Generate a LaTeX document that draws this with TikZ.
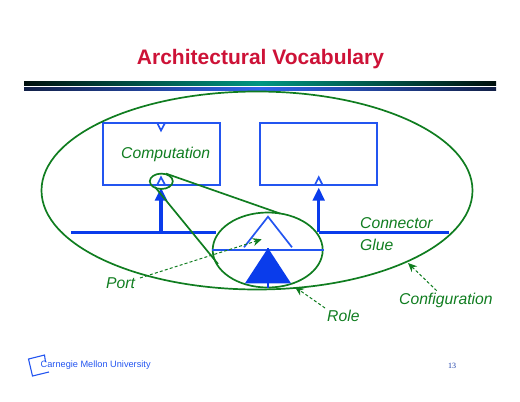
\documentclass[tikz,border=0pt]{standalone}
\usepackage{fontspec}
\setmainfont{Liberation Sans}
\newfontfamily\serifnum{Liberation Serif}
\usetikzlibrary{shapes.geometric,arrows.meta}
\definecolor{cgreen}{RGB}{16,125,32}
\definecolor{cblue}{RGB}{10,60,235}
\definecolor{lblue}{RGB}{35,85,240}
\definecolor{ctitle}{RGB}{205,18,55}
\definecolor{cteal}{RGB}{0,150,130}
\definecolor{cnavy}{RGB}{18,32,70}
\definecolor{cbar}{RGB}{50,100,235}
\tikzset{
  ring/.style={draw=cgreen,line width=1.7pt,ellipse,inner sep=0pt,minimum width=#1},
  zoomline/.style={draw=cgreen,line width=1.7pt},
  boxshape/.style={draw=lblue,line width=1.7pt,rectangle,inner sep=0pt,minimum width=117pt,minimum height=62pt},
  thinblue/.style={draw=lblue,line width=1.7pt,line join=miter},
  thickblue/.style={draw=cblue,line width=3.2pt},
  bluearrow/.style={draw=cblue,line width=3.2pt,-{Triangle[length=13pt,width=11.5pt]},shorten >=0pt},
  lab/.style={text=cgreen,font=\fontsize{15.7}{18}\selectfont\itshape,inner sep=0pt,anchor=base west},
  dasharrow/.style={draw=cgreen,line width=1pt,dash pattern=on 3pt off 2.2pt,-{Stealth[length=9pt,width=8pt]}},
}
\begin{document}
\begin{tikzpicture}[x=1pt,y=-1pt]
\useasboundingbox (0,0) rectangle (520,402);
% header
\node[text=ctitle,font=\fontsize{21}{23}\selectfont\bfseries,inner sep=0pt,anchor=base] (title) at (260.5,64.5) {Architectural Vocabulary};
\shade[left color=black!90!cteal,right color=cteal] (24,81.7) rectangle (260.2,85.8);
\shade[left color=cteal,right color=black!90!cteal] (260,81.7) rectangle (496,85.8);
\shade[left color=cnavy,right color=cbar] (24,87.6) rectangle (260.2,90.2);
\shade[left color=cbar,right color=cnavy] (260,87.6) rectangle (496,90.2);
% connector bar
\coordinate (barL) at (71,232.3);
\coordinate (barR) at (449,232.3);
\coordinate (barA) at (161,232.3);
\coordinate (barB) at (318.7,232.3);
\coordinate (barLend) at (216,232.3);
\draw[thickblue] (barL) -- (barLend);
\draw[thickblue] (barB) -- (barR);
% boxes
\node[boxshape] (box1) at (161.3,153.7) {};
\node[boxshape] (box2) at (318.5,153.7) {};
% top notch
\coordinate (n1) at (157.3,123);
\coordinate (n2) at (161,130.5);
\coordinate (n3) at (165,123);
\draw[thinblue] (n1) -- (n2) -- (n3);
% ports
\coordinate (p1a) at (157.3,184.7);
\coordinate (p1b) at (161,177.3);
\coordinate (p1c) at (165,184.7);
\draw[thinblue] (p1a) -- (p1b) -- (p1c);
\coordinate (p2a) at (315,184.7);
\coordinate (p2b) at (318.7,177.3);
\coordinate (p2c) at (322.4,184.7);
\draw[thinblue] (p2a) -- (p2b) -- (p2c);
% arrows
\coordinate (a1) at (161,187.5);
\coordinate (a2) at (318.7,187.5);
\draw[bluearrow] (barA) -- (a1);
\draw[bluearrow] (barB) -- (a2);
% text
\node[lab] (comp) at (121,158.5) {Computation};
\node[lab] (conn) at (360,228) {Connector};
\node[lab] (glue) at (360,250) {Glue};
\node[lab] (port) at (106,288) {Port};
\node[lab] (role) at (327,321) {Role};
\node[lab] (conf) at (399,304.5) {Configuration};
% rings
\node[ring=431pt,minimum height=198pt] (config) at (257,190.5) {};
\node[ring=23pt,minimum height=15.4pt] (small) at (161.3,181.3) {};
\node[ring=110pt,minimum height=75pt] (big) at (267.7,250) {};
% magnified contents
\draw[thinblue] (big.west) -- (big.east);
\coordinate (t1) at (244,247.3);
\coordinate (t2) at (268,216.7);
\coordinate (t3) at (292,247.3);
\draw[thinblue] (t1) -- (t2) -- (t3);
\coordinate (f1) at (245,283.3);
\coordinate (f2) at (268,248);
\coordinate (f3) at (291,283.3);
\coordinate (f4) at (268,288);
\fill[cblue] (f1) -- (f2) -- (f3) -- cycle;
\draw[draw=cblue,line width=2pt] (f2) -- (f4);
% zoom lines
\coordinate (z1) at (166,173.6);
\coordinate (z2) at (280,213.5);
\coordinate (z3) at (155,187);
\coordinate (z4) at (218,264);
\draw[zoomline] (z1) -- (z2);
\draw[zoomline] (z3) -- (z4);
% dashed arrows
\coordinate (d1) at (140,278);
\coordinate (d1t) at (261.7,239.3);
\coordinate (d2) at (325,308);
\coordinate (d2t) at (295,287);
\coordinate (d3) at (436.7,290.7);
\coordinate (d3t) at (408,263);
\draw[dasharrow] (d1) -- (d1t);
\draw[dasharrow] (d2) -- (d2t);
\draw[dasharrow] (d3) -- (d3t);
% footer
\coordinate (l1) at (45.5,362);
\coordinate (l2) at (44.5,355);
\coordinate (l3) at (28.5,359);
\coordinate (l4) at (32.5,376);
\coordinate (l5) at (49,372);
\draw[draw=lblue,line width=1.1pt] (l1) -- (l2) -- (l3) -- (l4) -- (l5);
\node[text=lblue,font=\fontsize{9.2}{11}\selectfont,inner sep=0pt,anchor=base west] (cmu) at (40.5,367.5) {Carnegie Mellon University};
\node[text=lblue!70!black,font=\fontsize{8}{10}\serifnum,inner sep=0pt,anchor=base west] (page) at (448,368) {13};
\end{tikzpicture}
\end{document}
